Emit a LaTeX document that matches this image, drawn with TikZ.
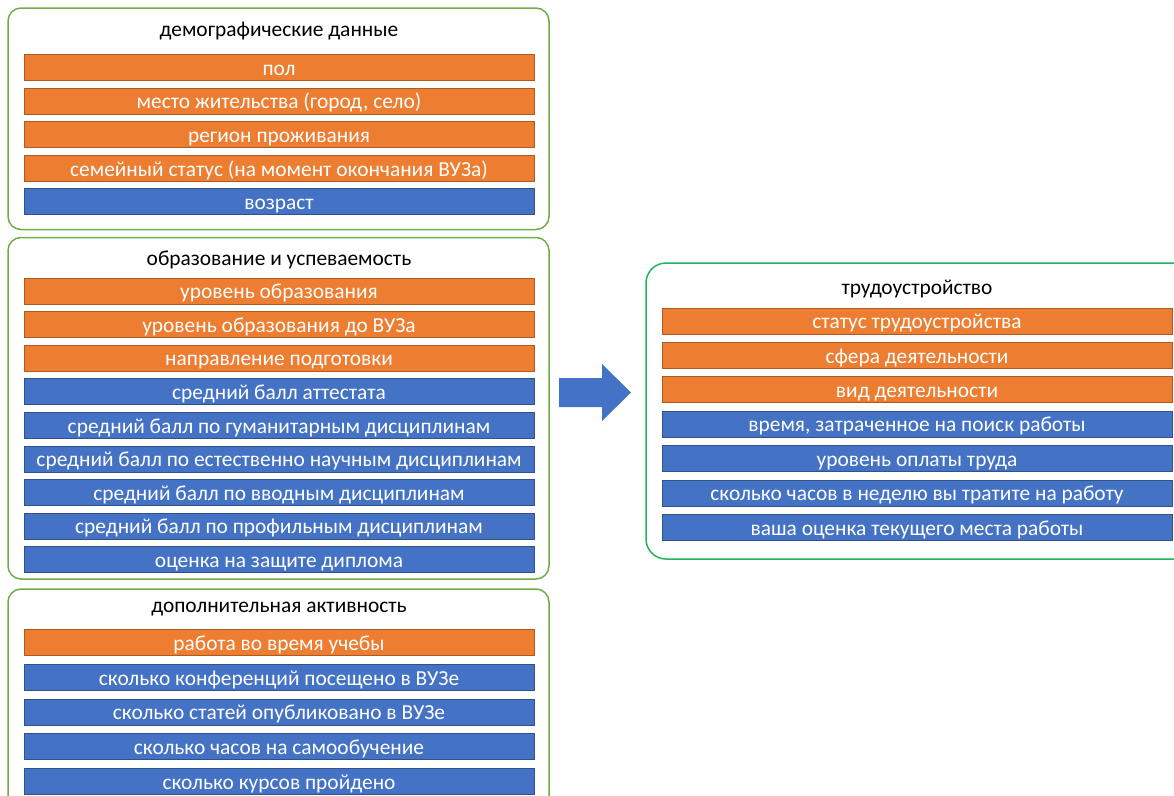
\documentclass[tikz,border=0pt]{standalone}
\usepackage{fontspec}
\setmainfont{Carlito}
\definecolor{barorange}{HTML}{ED7D31}
\definecolor{orangeedge}{HTML}{AE5A21}
\definecolor{barblue}{HTML}{4472C4}
\definecolor{blueedge}{HTML}{2F528F}
\definecolor{groupgreen}{HTML}{70AD47}
\definecolor{resultgreen}{HTML}{1FB75A}
\tikzset{
  bar/.style={rectangle, line width=0.9pt, minimum width=510, minimum height=26,
    inner sep=0, text=white, text height=16.5, text depth=1,
    font=\fontsize{21.4}{24}\selectfont},
  orangebar/.style={bar, fill=barorange, draw=orangeedge},
  bluebar/.style={bar, fill=barblue, draw=blueedge},
  groupbox/.style={rectangle, rounded corners=13, draw=groupgreen, line width=1.5pt, inner sep=0},
  resultbox/.style={groupbox, rounded corners=20, draw=resultgreen},
  grouptitle/.style={inner sep=0, text=black, font=\fontsize{21.4}{24}\selectfont}
}
\begin{document}
\begin{tikzpicture}[x=1pt,y=-1pt]
	\useasboundingbox (0,0) rectangle (1174,795);
	\clip (0,0) rectangle (1174,795);
	% group frames
	\node[groupbox, minimum width=541, minimum height=221.5] (demo) at (278.5,118.75) {};
	\node[groupbox, minimum width=541, minimum height=341.5] (edu) at (278.5,408.25) {};
	\node[groupbox, minimum width=541, minimum height=251] (act) at (278.5,714.5) {};
	\node[resultbox, minimum width=554, minimum height=296] (emp) at (923,411) {};
	% titles
	\node[grouptitle] (demotitle) at (279,31.5) {демографические данные};
	\node[grouptitle] (edutitle) at (279,259.5) {образование и успеваемость};
	\node[grouptitle] (acttitle) at (279,609.5) {дополнительная активность};
	\node[grouptitle] (emptitle) at (917,289.5) {трудоустройство};
	% bars
	\foreach \txt/\kind [count=\i] in {пол/orangebar, {место жительства (город, село)}/orangebar,
		регион проживания/orangebar, {семейный статус (на момент окончания ВУЗа)}/orangebar,
		возраст/bluebar} {
		\node[\kind] (demo\i) at (279,{67.5+33.6*(\i-1)}) {\txt};
	}
	\foreach \txt/\kind [count=\i] in {уровень образования/orangebar, уровень образования до ВУЗа/orangebar,
		направление подготовки/orangebar, средний балл аттестата/bluebar,
		средний балл по гуманитарным дисциплинам/bluebar,
		средний балл по естественно научным дисциплинам/bluebar,
		средний балл по вводным дисциплинам/bluebar,
		средний балл по профильным дисциплинам/bluebar,
		оценка на защите диплома/bluebar} {
		\node[\kind] (edu\i) at (279,{291+33.6*(\i-1)}) {\txt};
	}
	\foreach \txt/\kind [count=\i] in {работа во время учебы/orangebar,
		сколько конференций посещено в ВУЗе/bluebar,
		сколько статей опубликовано в ВУЗе/bluebar,
		сколько часов на самообучение/bluebar,
		сколько курсов пройдено/bluebar} {
		\node[\kind] (act\i) at (279,{642.5+34.75*(\i-1)}) {\txt};
	}
	\foreach \txt/\kind [count=\i] in {статус трудоустройства/orangebar,
		сфера деятельности/orangebar, вид деятельности/orangebar,
		{время, затраченное на поиск работы}/bluebar,
		уровень оплаты труда/bluebar,
		сколько часов в неделю вы тратите на работу/bluebar,
		ваша оценка текущего места работы/bluebar} {
		\node[\kind] (emp\i) at (917,{321+34.4*(\i-1)}) {\txt};
	}
	% block arrow
	\fill[barblue] (559,378) -- (602,378) -- (602,364) -- (631,392.5)
		-- (602,421) -- (602,407) -- (559,407) -- cycle;
\end{tikzpicture}
\end{document}
